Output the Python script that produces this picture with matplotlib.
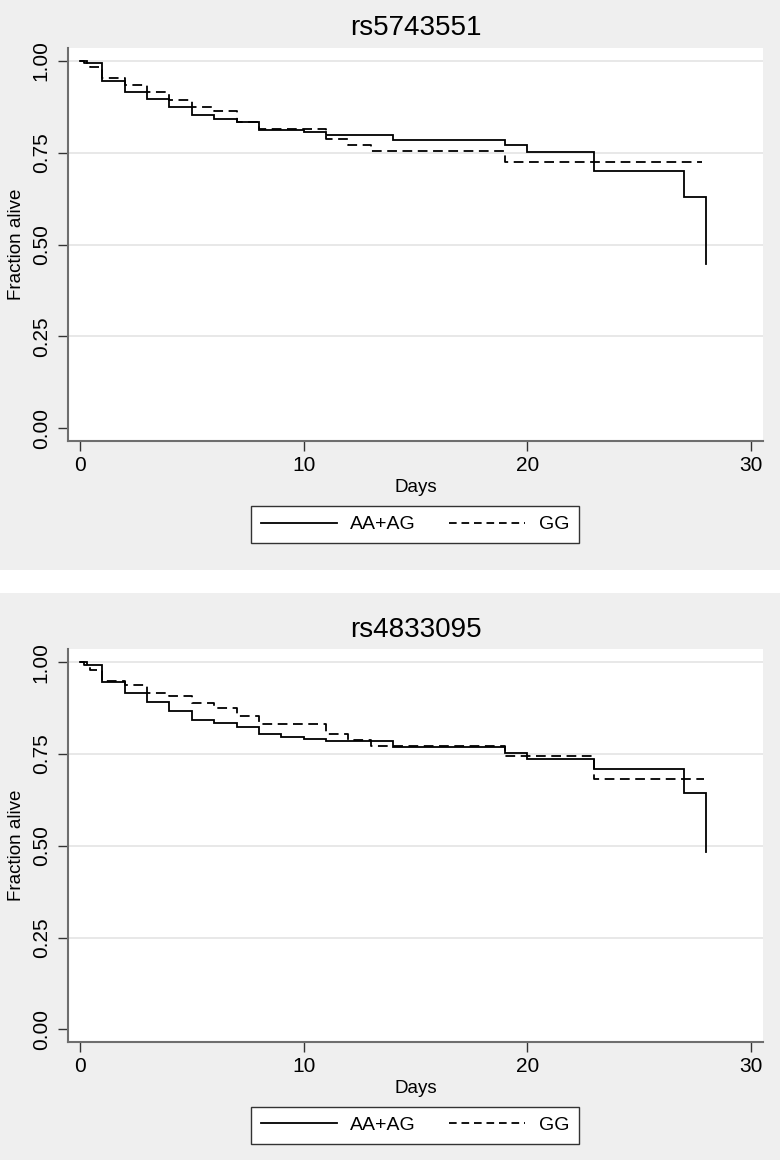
import matplotlib
matplotlib.use("Agg")
import matplotlib.pyplot as plt
from matplotlib.patches import Rectangle
from matplotlib.lines import Line2D

plt.rcParams['font.family'] = ['Liberation Sans', 'DejaVu Sans']
plt.rcParams['lines.scale_dashes'] = False

# ---------------- data ----------------
titles = ["rs5743551", "rs4833095"]
group_labels = ["AA+AG", "GG"]
x_ticks = [0, 10, 20, 30]
y_ticks = [0.00, 0.25, 0.50, 0.75, 1.00]

# rs5743551
top_aa_days = [0, 0.3, 1, 2, 3, 4, 5, 6, 7, 8, 10, 11, 14, 19, 20, 23, 27, 28]
top_aa_surv = [1.0, 0.995, 0.944, 0.915, 0.896, 0.874, 0.851, 0.842, 0.832, 0.8125,
               0.806, 0.799, 0.785, 0.770, 0.752, 0.699, 0.629, 0.448]
top_gg_days = [0, 0.2, 0.45, 1, 2, 3, 4, 5, 6, 7, 8, 11, 12, 13, 19, 27.8]
top_gg_surv = [1.0, 0.993, 0.982, 0.952, 0.934, 0.914, 0.894, 0.873, 0.864, 0.832,
               0.814, 0.787, 0.770, 0.754, 0.725, 0.725]

# rs4833095
bot_aa_days = [0, 0.3, 1, 2, 3, 4, 5, 6, 7, 8, 9, 10, 11, 14, 19, 20, 23, 27, 28]
bot_aa_surv = [1.0, 0.992, 0.946, 0.915, 0.892, 0.867, 0.843, 0.835, 0.823, 0.805,
               0.796, 0.791, 0.786, 0.768, 0.753, 0.737, 0.710, 0.644, 0.483]
bot_gg_days = [0, 0.2, 0.45, 1, 2, 3, 4, 5, 6, 7, 8, 11, 12, 13, 19, 23, 27.9]
bot_gg_surv = [1.0, 0.993, 0.978, 0.948, 0.939, 0.917, 0.909, 0.888, 0.876, 0.853,
               0.833, 0.805, 0.789, 0.772, 0.744, 0.683, 0.683]

panels = [
    (titles[0], top_aa_days, top_aa_surv, top_gg_days, top_gg_surv),
    (titles[1], bot_aa_days, bot_aa_surv, bot_gg_days, bot_gg_surv),
]

# ---------------- layout ----------------
W, H = 780, 1160
fig = plt.figure(figsize=(W / 100, H / 100), dpi=100, facecolor='white')

GRAY = '#efefef'
# panel backgrounds (pixel rows): top 0-570, bottom 593-1160
fig.patches.append(Rectangle((0, 1 - 570 / H), 1, 570 / H, transform=fig.transFigure,
                             facecolor=GRAY, edgecolor='none', zorder=-10))
fig.patches.append(Rectangle((0, 0), 1, 1 - 593.3 / H, transform=fig.transFigure,
                             facecolor=GRAY, edgecolor='none', zorder=-10))

ax_px = [(47.7, 440.7, 524.5), (649.3, 1041.7, 1125.3)]  # top, bottom, legend center y
left_px, right_px = 68, 763.3

dash = (7, 4)
for (title, aa_d, aa_s, gg_d, gg_s), (tpx, bpx, legy) in zip(panels, ax_px):
    ax = fig.add_axes([left_px / W, 1 - bpx / H, (right_px - left_px) / W, (bpx - tpx) / H])
    ax.set_facecolor('white')
    ax.step(aa_d, aa_s, where='post', color='black', lw=1.3, solid_joinstyle='miter')
    ax.step(gg_d, gg_s, where='post', color='black', lw=1.3, dashes=dash)

    ax.set_xlim(-0.537, 30.56)
    ax.set_ylim(-0.0337, 1.0354)
    ax.set_xticks(x_ticks)
    ax.set_yticks(y_ticks)
    ax.set_yticklabels([f"{v:.2f}" for v in y_ticks], rotation=90, va='center')
    for v in y_ticks[1:]:
        ax.axhline(v, color='#e4e4e4', lw=1.2, zorder=0)

    for s in ['top', 'right']:
        ax.spines[s].set_visible(False)
    for s in ['left', 'bottom']:
        ax.spines[s].set_color('#6e6e6e')
        ax.spines[s].set_linewidth(1.5)
    ax.tick_params(axis='both', direction='out', length=7, width=1.0, color='#333333',
                   labelsize=15, pad=4)
    ax.tick_params(axis='y', pad=5.5)

    ax.set_title(title, fontsize=20, pad=9)
    ax.set_xlabel("Days", fontsize=13.5, labelpad=3)
    ax.set_ylabel("Fraction alive", fontsize=13.5, labelpad=5)

    handles = [Line2D([], [], color='black', lw=1.3),
               Line2D([], [], color='black', lw=1.3, dashes=(5.5, 3.5))]
    leg = fig.legend(handles, group_labels, loc='center',
                     bbox_to_anchor=(415 / W, 1 - legy / H), ncol=2, fontsize=14,
                     frameon=True, fancybox=False, edgecolor='#333333', framealpha=1,
                     handlelength=3.9, handletextpad=0.7, columnspacing=1.7,
                     borderpad=0.5, borderaxespad=0)
    leg.get_frame().set_linewidth(1.0)

fig.savefig("out.png", dpi=100, facecolor='white')
